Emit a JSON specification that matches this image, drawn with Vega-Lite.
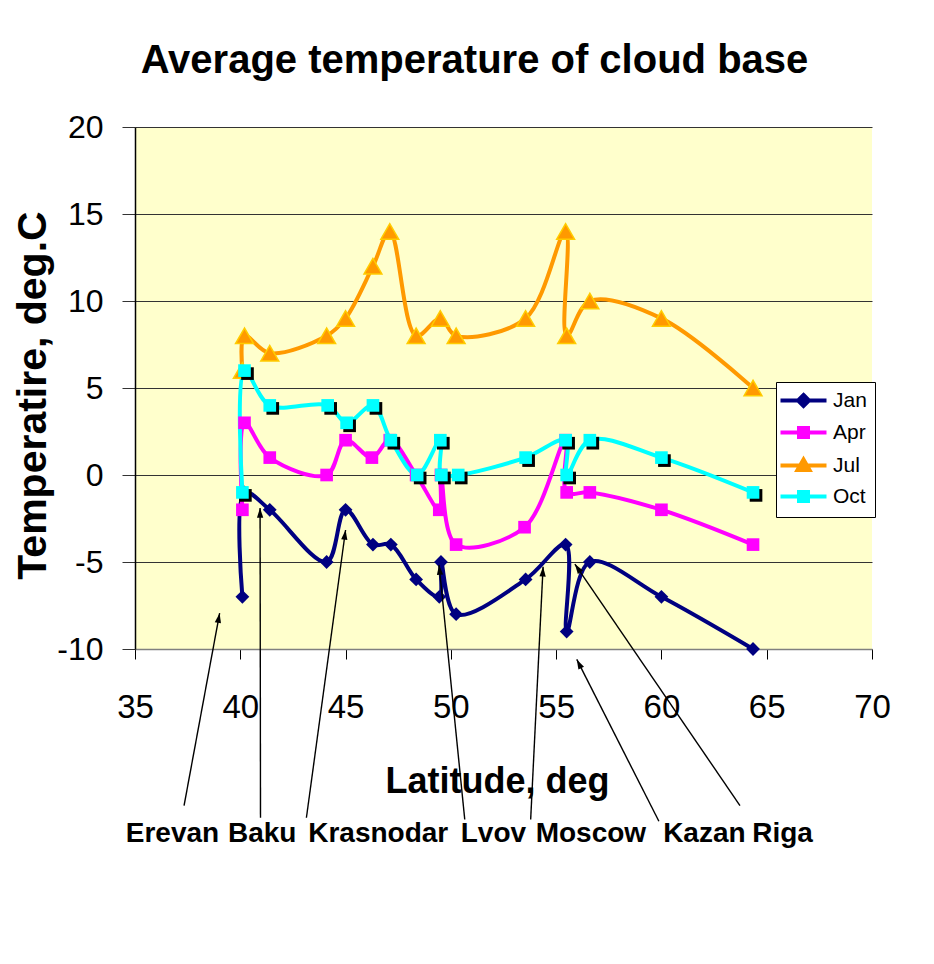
{
  "$schema": "https://vega.github.io/schema/vega-lite/v6.json",
  "width": 737,
  "height": 522,
  "autosize": "none",
  "padding": {"left": 135, "top": 127, "right": 62, "bottom": 315},
  "background": "#ffffff",
  "title": {
    "text": "Average temperature of cloud base",
    "font": "Liberation Sans",
    "fontSize": 40,
    "fontWeight": "bold",
    "color": "#000000",
    "anchor": "middle",
    "baseline": "alphabetic",
    "offset": -2,
    "dx": -29
  },
  "datasets": {
    "series": [
      {"month": "Jan", "lat": 40.1, "t": -7},
      {"month": "Jan", "lat": 40.2, "t": -1},
      {"month": "Jan", "lat": 41.4, "t": -2},
      {"month": "Jan", "lat": 44.1, "t": -5},
      {"month": "Jan", "lat": 45.0, "t": -2},
      {"month": "Jan", "lat": 46.3, "t": -4},
      {"month": "Jan", "lat": 47.15, "t": -4},
      {"month": "Jan", "lat": 48.35, "t": -6},
      {"month": "Jan", "lat": 49.45, "t": -7},
      {"month": "Jan", "lat": 49.53, "t": -5},
      {"month": "Jan", "lat": 50.25, "t": -8},
      {"month": "Jan", "lat": 53.55, "t": -6},
      {"month": "Jan", "lat": 55.45, "t": -4},
      {"month": "Jan", "lat": 55.5, "t": -9},
      {"month": "Jan", "lat": 56.6, "t": -5},
      {"month": "Jan", "lat": 60.0, "t": -7},
      {"month": "Jan", "lat": 64.35, "t": -10},
      {"month": "Apr", "lat": 40.1, "t": -2},
      {"month": "Apr", "lat": 40.2, "t": 3},
      {"month": "Apr", "lat": 41.4, "t": 1},
      {"month": "Apr", "lat": 44.1, "t": 0},
      {"month": "Apr", "lat": 45.0, "t": 2},
      {"month": "Apr", "lat": 46.25, "t": 1},
      {"month": "Apr", "lat": 47.1, "t": 2},
      {"month": "Apr", "lat": 48.35, "t": 0},
      {"month": "Apr", "lat": 49.45, "t": -2},
      {"month": "Apr", "lat": 49.53, "t": 0},
      {"month": "Apr", "lat": 50.25, "t": -4},
      {"month": "Apr", "lat": 53.5, "t": -3},
      {"month": "Apr", "lat": 55.45, "t": 2},
      {"month": "Apr", "lat": 55.5, "t": -1},
      {"month": "Apr", "lat": 56.6, "t": -1},
      {"month": "Apr", "lat": 60.0, "t": -2},
      {"month": "Apr", "lat": 64.35, "t": -4},
      {"month": "Jul", "lat": 40.1, "t": 6},
      {"month": "Jul", "lat": 40.2, "t": 8},
      {"month": "Jul", "lat": 41.4, "t": 7},
      {"month": "Jul", "lat": 44.1, "t": 8},
      {"month": "Jul", "lat": 45.0, "t": 9},
      {"month": "Jul", "lat": 46.3, "t": 12},
      {"month": "Jul", "lat": 47.1, "t": 14},
      {"month": "Jul", "lat": 48.35, "t": 8},
      {"month": "Jul", "lat": 49.5, "t": 9},
      {"month": "Jul", "lat": 50.25, "t": 8},
      {"month": "Jul", "lat": 53.55, "t": 9},
      {"month": "Jul", "lat": 55.45, "t": 14},
      {"month": "Jul", "lat": 55.5, "t": 8},
      {"month": "Jul", "lat": 56.6, "t": 10},
      {"month": "Jul", "lat": 60.0, "t": 9},
      {"month": "Jul", "lat": 64.35, "t": 5},
      {"month": "Oct", "lat": 40.1, "t": -1},
      {"month": "Oct", "lat": 40.2, "t": 6},
      {"month": "Oct", "lat": 41.4, "t": 4},
      {"month": "Oct", "lat": 44.15, "t": 4},
      {"month": "Oct", "lat": 45.05, "t": 3},
      {"month": "Oct", "lat": 46.3, "t": 4},
      {"month": "Oct", "lat": 47.15, "t": 2},
      {"month": "Oct", "lat": 48.4, "t": 0},
      {"month": "Oct", "lat": 49.5, "t": 2},
      {"month": "Oct", "lat": 49.55, "t": 0},
      {"month": "Oct", "lat": 50.35, "t": 0},
      {"month": "Oct", "lat": 53.55, "t": 1},
      {"month": "Oct", "lat": 55.45, "t": 2},
      {"month": "Oct", "lat": 55.5, "t": 0},
      {"month": "Oct", "lat": 56.6, "t": 2},
      {"month": "Oct", "lat": 60.0, "t": 1},
      {"month": "Oct", "lat": 64.35, "t": -1}
    ],
    "cities": [
      {"city": "Erevan", "tip_lat": 39.02, "tip_t": -7.94, "tail_lat": 37.33, "tail_t": -19.0, "label_lat": 36.78, "label_t": -21.08},
      {"city": "Baku", "tip_lat": 40.94, "tip_t": -1.89, "tail_lat": 40.96, "tail_t": -19.7, "label_lat": 41.04, "label_t": -21.08},
      {"city": "Krasnodar", "tip_lat": 45.0, "tip_t": -3.16, "tail_lat": 43.14, "tail_t": -19.7, "label_lat": 46.55, "label_t": -21.08},
      {"city": "Lvov", "tip_lat": 49.44, "tip_t": -5.17, "tail_lat": 50.66, "tail_t": -19.8, "label_lat": 52.02, "label_t": -21.08},
      {"city": "Moscow", "tip_lat": 54.38, "tip_t": -5.27, "tail_lat": 53.79, "tail_t": -19.8, "label_lat": 56.65, "label_t": -21.08},
      {"city": "Kazan", "tip_lat": 55.98, "tip_t": -10.6, "tail_lat": 59.88, "tail_t": -19.9, "label_lat": 62.04, "label_t": -21.08},
      {"city": "Riga", "tip_lat": 55.89, "tip_t": -5.12, "tail_lat": 63.73, "tail_t": -19.0, "label_lat": 65.75, "label_t": -21.08}
    ]
  },
  "layer": [
    {
      "data": {"name": "series"},
      "mark": {"type": "line", "strokeWidth": 4, "interpolate": "catmull-rom"},
      "encoding": {
        "x": {
          "field": "lat", "type": "quantitative",
          "scale": {"domain": [35, 70], "nice": false, "zero": false},
          "axis": {
            "title": "Latitude, deg",
            "values": [35, 40, 45, 50, 55, 60, 65, 70],
            "grid": false,
            "domainColor": "#808080",
            "domainWidth": 1.5,
            "tickColor": "#000000",
            "tickSize": 10,
            "labelFontSize": 33,
            "labelColor": "#000000",
            "labelBaseline": "alphabetic",
            "labelPadding": 58,
            "labelFlush": false,
            "labelOverlap": false,
            "titleFontSize": 36,
            "titleFontWeight": "bold",
            "titleColor": "#000000",
            "titleBaseline": "alphabetic",
            "titleX": 362,
            "titleY": 143
          }
        },
        "y": {
          "field": "t", "type": "quantitative",
          "scale": {"domain": [-10, 20], "nice": false, "zero": false},
          "axis": {
            "title": "Temperatire, deg.C",
            "values": [-10, -5, 0, 5, 10, 15, 20],
            "labelExpr": "'' + datum.value",
            "grid": true,
            "gridColor": "#333333",
            "gridWidth": 1,
            "domainColor": "#000000",
            "domainWidth": 1.5,
            "tickColor": "#333333",
            "tickSize": 13,
            "labelFontSize": 32,
            "labelColor": "#000000",
            "labelPadding": 19,
            "titleFontSize": 41,
            "titleFontWeight": "bold",
            "titleColor": "#000000",
            "titleAngle": -90,
            "titleBaseline": "alphabetic",
            "titleAlign": "center",
            "titleX": -90,
            "titleY": 268
          }
        },
        "color": {
          "field": "month", "type": "nominal",
          "scale": {"domain": ["Jan", "Apr", "Jul", "Oct"], "range": ["#000080", "#FF00FF", "#FF9900", "#00FFFF"]},
          "legend": {
            "title": null,
            "orient": "none",
            "legendX": 641,
            "legendY": 255,
            "fillColor": "#ffffff",
            "strokeColor": "#000000",
            "padding": 8,
            "cornerRadius": 0,
            "labelFontSize": 21,
            "labelColor": "#000000",
            "labelOffset": 19,
            "symbolOffset": 9,
            "symbolSize": 100,
            "rowPadding": 6,
            "encode": {
              "symbols": {
                "update": {
                  "shape": {"signal": "datum.value === 'Jan' ? 'M-4.6,0H4.6M0,-1.1L1.1,0L0,1.1L-1.1,0Z' : datum.value === 'Jul' ? 'M-4.6,0H4.6M0,-1.2L1.2,0.9L-1.2,0.9Z' : 'M-4.6,0H4.6M-0.9,-0.9H0.9V0.9H-0.9Z'"},
                  "fill": {"signal": "scale('color', datum.value)"},
                  "stroke": {"signal": "scale('color', datum.value)"},
                  "strokeWidth": {"value": 4},
                  "opacity": {"value": 1},
                  "fillOpacity": {"value": 1},
                  "strokeOpacity": {"value": 1}
                }
              }
            }
          }
        }
      }
    },
    {
      "data": {"name": "series"},
      "transform": [{"filter": "datum.month === 'Jan'"}],
      "mark": {"type": "point", "shape": "diamond", "filled": true, "color": "#000080", "opacity": 1, "size": 190},
      "encoding": {
        "x": {"field": "lat", "type": "quantitative"},
        "y": {"field": "t", "type": "quantitative"}
      }
    },
    {
      "data": {"name": "series"},
      "transform": [{"filter": "datum.month === 'Apr'"}],
      "mark": {"type": "point", "shape": "square", "filled": true, "color": "#FF00FF", "opacity": 1, "size": 160},
      "encoding": {
        "x": {"field": "lat", "type": "quantitative"},
        "y": {"field": "t", "type": "quantitative"}
      }
    },
    {
      "data": {"name": "series"},
      "transform": [{"filter": "datum.month === 'Jul'"}],
      "mark": {"type": "point", "shape": "triangle-up", "filled": true, "fill": "#FF9900", "stroke": "#FFCC00", "strokeWidth": 1.5, "opacity": 1, "size": 320},
      "encoding": {
        "x": {"field": "lat", "type": "quantitative"},
        "y": {"field": "t", "type": "quantitative"}
      }
    },
    {
      "data": {"name": "series"},
      "transform": [{"filter": "datum.month === 'Oct'"}],
      "mark": {"type": "point", "shape": "square", "filled": true, "color": "#000000", "opacity": 1, "size": 160, "xOffset": 3, "yOffset": 3},
      "encoding": {
        "x": {"field": "lat", "type": "quantitative"},
        "y": {"field": "t", "type": "quantitative"}
      }
    },
    {
      "data": {"name": "series"},
      "transform": [{"filter": "datum.month === 'Oct'"}],
      "mark": {"type": "point", "shape": "square", "filled": true, "color": "#00FFFF", "opacity": 1, "size": 160},
      "encoding": {
        "x": {"field": "lat", "type": "quantitative"},
        "y": {"field": "t", "type": "quantitative"}
      }
    },
    {
      "data": {"name": "cities"},
      "mark": {"type": "rule", "color": "#000000", "strokeWidth": 1.4},
      "encoding": {
        "x": {"field": "tail_lat", "type": "quantitative"},
        "y": {"field": "tail_t", "type": "quantitative"},
        "x2": {"field": "tip_lat"},
        "y2": {"field": "tip_t"}
      }
    },
    {
      "data": {"name": "cities"},
      "mark": {
        "type": "point",
        "shape": "M0,0L0.45,1.4L-0.45,1.4Z",
        "filled": true,
        "color": "#000000",
        "opacity": 1,
        "size": 196,
        "angle": {"expr": "atan2(scale('x', datum.tip_lat) - scale('x', datum.tail_lat), scale('y', datum.tail_t) - scale('y', datum.tip_t)) * 180 / PI"}
      },
      "encoding": {
        "x": {"field": "tip_lat", "type": "quantitative"},
        "y": {"field": "tip_t", "type": "quantitative"}
      }
    },
    {
      "data": {"name": "cities"},
      "mark": {"type": "text", "font": "Liberation Sans", "fontSize": 28, "fontWeight": "bold", "color": "#000000", "align": "center", "baseline": "alphabetic"},
      "encoding": {
        "x": {"field": "label_lat", "type": "quantitative"},
        "y": {"field": "label_t", "type": "quantitative"},
        "text": {"field": "city"}
      }
    }
  ],
  "config": {
    "font": "Liberation Sans",
    "view": {"stroke": null, "fill": "#FFFFCC"}
  }
}
